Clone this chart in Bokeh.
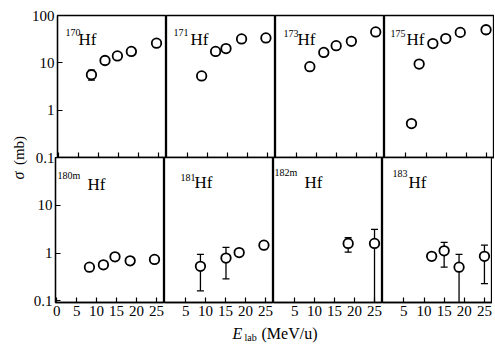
import math
from bokeh.plotting import figure
from bokeh.layouts import row, column
from bokeh.models import Range1d, FixedTicker, NumeralTickFormatter, Label
from bokeh.embed import file_html
from bokeh.resources import INLINE

NAN = float("nan")
LOW = 0.05  # error bar that runs below the bottom of the axis

# ---------------- data: E_lab (MeV/u) and cross section sigma (mb) ----------------
hf170_E = [8.2, 11.6, 14.7, 18.2, 24.5]
hf170_sigma = [5.6, 11.2, 14.0, 17.4, 26.0]
hf170_lo = [4.3, NAN, NAN, NAN, NAN]
hf170_hi = [7.0, NAN, NAN, NAN, NAN]

hf171_E = [8.5, 12.0, 14.6, 18.5, 24.6]
hf171_sigma = [5.3, 17.4, 20.0, 32.0, 33.6]
hf171_lo = [4.5, NAN, NAN, NAN, NAN]
hf171_hi = [6.2, NAN, NAN, NAN, NAN]

hf173_E = [8.3, 11.8, 14.9, 18.7, 24.8]
hf173_sigma = [8.3, 16.6, 23.0, 28.5, 45.0]
hf173_lo = [NAN, NAN, NAN, NAN, NAN]
hf173_hi = [NAN, NAN, NAN, NAN, NAN]

hf175_E = [6.4, 8.3, 11.7, 14.9, 18.5, 24.9]
hf175_sigma = [0.52, 9.4, 25.5, 32.6, 44.0, 50.0]
hf175_lo = [NAN, NAN, NAN, NAN, NAN, NAN]
hf175_hi = [NAN, NAN, NAN, NAN, NAN, NAN]

hf180m_E = [8.2, 11.7, 14.6, 18.4, 24.5]
hf180m_sigma = [0.51, 0.57, 0.84, 0.69, 0.74]
hf180m_lo = [NAN, NAN, NAN, NAN, NAN]
hf180m_hi = [NAN, NAN, NAN, NAN, NAN]

hf181_E = [8.7, 15.1, 18.4, 24.6]
hf181_sigma = [0.53, 0.79, 1.03, 1.47]
hf181_lo = [0.163, 0.29, NAN, NAN]
hf181_hi = [0.94, 1.32, NAN, NAN]

hf182m_E = [18.4, 25.0]
hf182m_sigma = [1.6, 1.6]
hf182m_lo = [1.05, LOW]
hf182m_hi = [2.1, 3.15]

hf183_E = [11.9, 15.0, 18.7, 25.0]
hf183_sigma = [0.86, 1.12, 0.51, 0.86]
hf183_lo = [0.72, 0.51, LOW, 0.23]
hf183_hi = [0.98, 1.68, 0.94, 1.47]

panel_mass = ["170", "171", "173", "175", "180m", "181", "182m", "183"]

x_ticks_first = [0, 5, 10, 15, 20, 25]
x_ticks_other = [5, 10, 15, 20, 25]
y_ticks_top = [0.1, 1, 10, 100]
y_ticks_bottom = [0.1, 1, 10]

# ---------------- layout constants ----------------
FONT = "Liberation Serif"
XMIN, XMAX = -0.3, 27.0
FW = [109, 109, 109, 110]
TOP_FH, BOT_FH = 142, 145
TOP_Y = (0.1, 100.0)
BOT_Y = (0.093, 100.0)
LEFT_BORDER = 27
TOP_BORDER = 15
BOT_BORDER = 20
OVERLAP = 10   # room under the top row for its "0.1" label; the bottom row overlaps it

# label offsets in px from frame top-left: (num_dx, num_dy, hf_dx, hf_dy)
label_pos = [
    (8, 17, 21, 24), (7, 17, 24, 24), (8, 18, 22, 24), (6, 18, 22, 24),
    (2, 18, 32, 27), (16, 20, 30, 25), (1, 15, 31, 25), (10, 16, 26, 25),
]

series = [
    (hf170_E, hf170_sigma, hf170_lo, hf170_hi),
    (hf171_E, hf171_sigma, hf171_lo, hf171_hi),
    (hf173_E, hf173_sigma, hf173_lo, hf173_hi),
    (hf175_E, hf175_sigma, hf175_lo, hf175_hi),
    (hf180m_E, hf180m_sigma, hf180m_lo, hf180m_hi),
    (hf181_E, hf181_sigma, hf181_lo, hf181_hi),
    (hf182m_E, hf182m_sigma, hf182m_lo, hf182m_hi),
    (hf183_E, hf183_sigma, hf183_lo, hf183_hi),
]


def px_x(dx, fw):
    return XMIN + dx * (XMAX - XMIN) / fw


def px_y(dy, yr, fh):
    lmax, lmin = math.log10(yr[1]), math.log10(yr[0])
    return 10 ** (lmax - dy / fh * (lmax - lmin))


def isnum(v):
    return not (isinstance(v, float) and math.isnan(v))


def make_panel(idx):
    col = idx % 4
    bottom = idx >= 4
    yr = BOT_Y if bottom else TOP_Y
    fh = BOT_FH if bottom else TOP_FH
    fw = FW[col]
    p = figure(frame_width=fw, frame_height=fh,
               x_range=Range1d(XMIN, XMAX), y_range=Range1d(*yr),
               y_axis_type="log", toolbar_location=None, output_backend="svg",
               y_axis_location="left" if col == 0 else None,
               min_border=0)
    p.min_border_left = LEFT_BORDER if col == 0 else 0
    p.min_border_right = 0
    p.min_border_top = 0 if bottom else TOP_BORDER
    p.min_border_bottom = BOT_BORDER if bottom else OVERLAP
    p.background_fill_color = "white"
    if bottom:
        p.border_fill_color = None
    else:
        p.border_fill_color = "white"
    p.outline_line_color = "black"
    p.outline_line_width = 1.3
    p.xgrid.visible = False
    p.ygrid.visible = False

    xa = p.xaxis[0]
    xa.ticker = FixedTicker(ticks=x_ticks_first if col == 0 else x_ticks_other)
    xa.major_tick_in = 5
    xa.major_tick_out = 0
    xa.minor_tick_in = 0
    xa.minor_tick_out = 0
    xa.axis_line_color = "black"
    xa.axis_line_width = 1.3
    xa.major_tick_line_color = "black"
    xa.major_tick_line_width = 1.2
    if bottom:
        xa.major_label_text_font = FONT
        xa.major_label_text_font_size = "15px"
        xa.major_label_text_color = "black"
        xa.major_label_standoff = 3
    else:
        xa.major_label_text_font_size = "0px"
        xa.major_label_text_color = None
        xa.major_label_text_alpha = 0
        xa.major_label_standoff = 0

    if col == 0:
        ya = p.yaxis[0]
        ya.ticker = FixedTicker(ticks=y_ticks_bottom if bottom else y_ticks_top)
        ya.formatter = NumeralTickFormatter(format="0.[0]")
        ya.major_tick_in = 5
        ya.major_tick_out = 0
        ya.minor_tick_in = 0
        ya.minor_tick_out = 0
        ya.axis_line_color = "black"
        ya.axis_line_width = 1.3
        ya.major_tick_line_color = "black"
        ya.major_tick_line_width = 1.2
        ya.major_label_text_font = FONT
        ya.major_label_text_font_size = "15px"
        ya.major_label_text_color = "black"
        ya.major_label_standoff = 3

    E, s, lo, hi = series[idx]
    # error bars
    seg = [(e, l, h) for e, l, h in zip(E, lo, hi) if isnum(l) and isnum(h)]
    if seg:
        p.segment(x0=[a[0] for a in seg], y0=[a[1] for a in seg],
                  x1=[a[0] for a in seg], y1=[a[2] for a in seg],
                  line_color="black", line_width=1.3)
        capx = [a[0] for a in seg] + [a[0] for a in seg if a[1] >= yr[0]]
        capy = [a[2] for a in seg] + [a[1] for a in seg if a[1] >= yr[0]]
        p.scatter(x=capx, y=capy, marker="dash", size=7,
                  line_color="black", line_width=1.3)
    p.scatter(x=E, y=s, marker="circle", size=9.5, fill_color="white",
              line_color="black", line_width=1.8)

    ndx, ndy, hdx, hdy = label_pos[idx]
    p.add_layout(Label(x=px_x(ndx, fw), y=px_y(ndy, yr, fh), text=panel_mass[idx],
                       text_font=FONT, text_font_size="10px", text_color="black",
                       text_baseline="alphabetic", text_align="left"))
    p.add_layout(Label(x=px_x(hdx, fw), y=px_y(hdy, yr, fh), text="Hf",
                       text_font=FONT, text_font_size="17px", text_color="black",
                       text_baseline="alphabetic", text_align="left"))
    return p


panels = [make_panel(i) for i in range(8)]
top_row = row(*panels[:4], spacing=0)
bottom_row = row(*panels[4:], spacing=0, margin=(-OVERLAP, 0, 0, 0))

GRID_W = LEFT_BORDER + sum(FW)
TOP_H = TOP_BORDER + TOP_FH
BOT_H = BOT_FH + BOT_BORDER
XT_H = 22
TOTAL_H = TOP_H + BOT_H + XT_H
YT_W = 28


def blank(w, h):
    f = figure(width=w, height=h, x_range=Range1d(0, w), y_range=Range1d(0, h),
               toolbar_location=None, output_backend="svg",
               x_axis_location=None, y_axis_location=None, min_border=0)
    f.xgrid.visible = False
    f.ygrid.visible = False
    f.outline_line_color = None
    f.background_fill_color = "white"
    f.border_fill_color = "white"
    return f


# y title
yfig = blank(YT_W, TOTAL_H)
yfig.add_layout(Label(x=18, y=TOTAL_H - 175, text="σ", angle=math.pi / 2,
                      text_font=FONT, text_font_size="16px", text_font_style="italic",
                      text_align="center", text_baseline="middle", text_color="black"))
yfig.add_layout(Label(x=18, y=TOTAL_H - 150, text="(mb)", angle=math.pi / 2,
                      text_font=FONT, text_font_size="15px",
                      text_align="center", text_baseline="middle", text_color="black"))

# x title
xfig = blank(GRID_W, XT_H)
xfig.add_layout(Label(x=204, y=11, text="E", text_font=FONT, text_font_size="16px",
                      text_font_style="italic", text_baseline="middle",
                      text_align="left", text_color="black"))
xfig.add_layout(Label(x=216, y=7, text="lab", text_font=FONT, text_font_size="10px",
                      text_baseline="middle", text_align="left", text_color="black"))
xfig.add_layout(Label(x=233, y=11, text="(MeV/u)", text_font=FONT, text_font_size="16px",
                      text_baseline="middle", text_align="left", text_color="black"))

layout = row(yfig, column(top_row, bottom_row, xfig, spacing=0), spacing=0)

open("out.html", "w").write(file_html(layout, INLINE))
